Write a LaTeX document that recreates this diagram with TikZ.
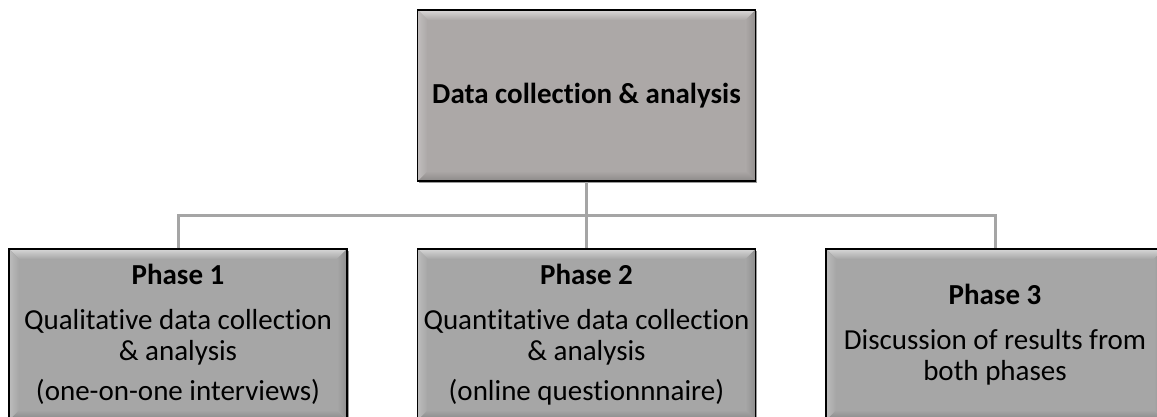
\documentclass[tikz,border=0pt]{standalone}
\usepackage{fontspec}
\setmainfont{Carlito}[Ligatures=NoCommon]
\usetikzlibrary{shadows,calc}

\definecolor{topfill}{HTML}{ACA8A7}
\definecolor{phasefill}{HTML}{A6A6A6}
\definecolor{linkgray}{HTML}{A5A5A5}

\tikzset{
  % bevelled box: light top edge, highlighted sides, darker bottom edge
  stage/.style={
    minimum width=338pt, minimum height=171pt, inner sep=0pt, align=center,
    font=\fontsize{29}{31}\selectfont,
    draw=black, line width=1.5pt, fill=#1,
    drop shadow={shadow xshift=1.5pt, shadow yshift=-1.5pt, opacity=0.4, fill=black},
    path picture={
      \coordinate (bnw) at (path picture bounding box.north west);
      \coordinate (bne) at (path picture bounding box.north east);
      \coordinate (bsw) at (path picture bounding box.south west);
      \coordinate (bse) at (path picture bounding box.south east);
      \fill[top color=#1!45!white, bottom color=#1]
        (bnw) -- (bne) -- ([shift={(-10pt,-10pt)}]bne) -- ([shift={(10pt,-10pt)}]bnw) -- cycle;
      \fill[top color=#1, bottom color=#1!82!black]
        (bsw) -- (bse) -- ([shift={(-10pt,10pt)}]bse) -- ([shift={(10pt,10pt)}]bsw) -- cycle;
      \fill[left color=#1!75!white, middle color=white, right color=#1]
        (bnw) -- ([shift={(10pt,-10pt)}]bnw) -- ([shift={(10pt,10pt)}]bsw) -- (bsw) -- cycle;
      \fill[left color=#1, middle color=white, right color=#1!85!black]
        (bne) -- ([shift={(-10pt,-10pt)}]bne) -- ([shift={(-10pt,10pt)}]bse) -- (bse) -- cycle;
    }
  },
  link/.style={draw=linkgray, line width=3pt},
}

\begin{document}
\begin{tikzpicture}[x=1pt,y=1pt]
\useasboundingbox (0,0) rectangle (1157,416);

% links from the overall stage to the three phases
\coordinate (hub) at (586.5,201);

\node[stage=topfill] (top) at (586.5,320.5)
  {\bfseries Data collection \& analysis};

\node[stage=phasefill] (p1) at (178,81.5)
  {\textbf{Phase 1}\\[14pt]Qualitative data collection\\\& analysis\\[9pt](one-on-one interviews)};
\node[stage=phasefill] (p2) at (586.5,81.5)
  {\textbf{Phase 2}\\[14pt]Quantitative data collection\\\& analysis\\[9pt](online questionnnaire)};
\node[stage=phasefill] (p3) at (995,81.5)
  {\textbf{Phase 3}\\[14pt]Discussion of results from\\both phases};

\draw[link] (top.south) -- (hub) -- (p2.north);
\draw[link] (p1.north) |- (hub) -| (p3.north);
\end{tikzpicture}
\end{document}
